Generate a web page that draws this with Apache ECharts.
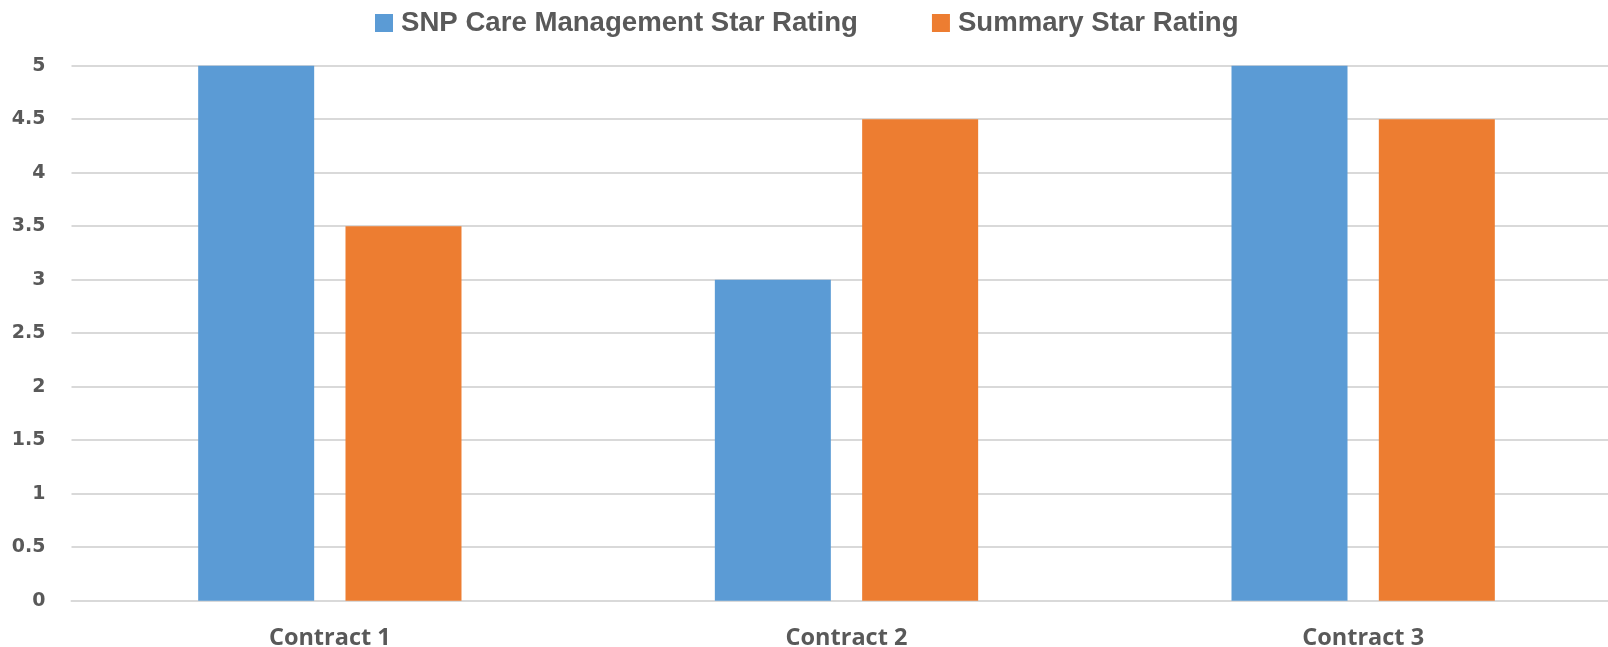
<!DOCTYPE html>
<html>
<head>
<meta charset="utf-8">
<script src="https://cdn.jsdelivr.net/npm/echarts@6/dist/echarts.min.js"></script>
<style>
  html, body { margin: 0; padding: 0; background: #fff; }
  #chart { width: 1608px; height: 647px; }
</style>
</head>
<body>
<div id="chart"></div>
<script>
  // data
  const contracts = ['Contract 1', 'Contract 2', 'Contract 3'];
  const snpCare = [5, 3, 5];
  const summary = [3.5, 4.5, 4.5];
  const seriesNames = ['SNP Care Management Star Rating', 'Summary Star Rating'];

  const myChart = echarts.init(document.getElementById('chart'));
  myChart.setOption({
    animation: false,
    color: ['#5B9BD5', '#ED7D31'],
    legend: {
      left: 375,
      top: 9,
      padding: 0,
      itemWidth: 18,
      itemHeight: 18,
      itemGap: 74,
      icon: 'rect',
      textStyle: {
        fontFamily: '"Liberation Sans", sans-serif',
        fontWeight: 'bold',
        fontSize: 27.6,
        lineHeight: 28,
        padding: [0, 0, 0, 3],
        color: '#595959'
      },
      data: seriesNames
    },
    grid: {
      left: 71.5,
      top: 65.7,
      width: 1550,
      height: 535,
      outerBoundsMode: 'none'
    },
    xAxis: {
      type: 'category',
      data: contracts,
      axisLine: { lineStyle: { color: '#D9D9D9', width: 2 } },
      axisTick: { show: false },
      axisLabel: {
        margin: 26,
        fontFamily: '"Open Sans", sans-serif',
        fontWeight: 'bold',
        fontSize: 23.5,
        color: '#595959'
      }
    },
    yAxis: {
      type: 'value',
      min: 0,
      max: 5,
      interval: 0.5,
      axisLine: { show: false },
      axisTick: { show: false },
      splitLine: { lineStyle: { color: '#D9D9D9', width: 2 } },
      axisLabel: {
        margin: 26,
        fontFamily: '"DejaVu Sans", sans-serif',
        fontWeight: 'bold',
        fontSize: 19,
        color: '#595959'
      }
    },
    series: [
      {
        name: seriesNames[0],
        type: 'bar',
        data: snpCare,
        barWidth: 116,
        barGap: '27%'
      },
      {
        name: seriesNames[1],
        type: 'bar',
        data: summary,
        barWidth: 116,
        barGap: '27%'
      }
    ]
  });
</script>
</body>
</html>
